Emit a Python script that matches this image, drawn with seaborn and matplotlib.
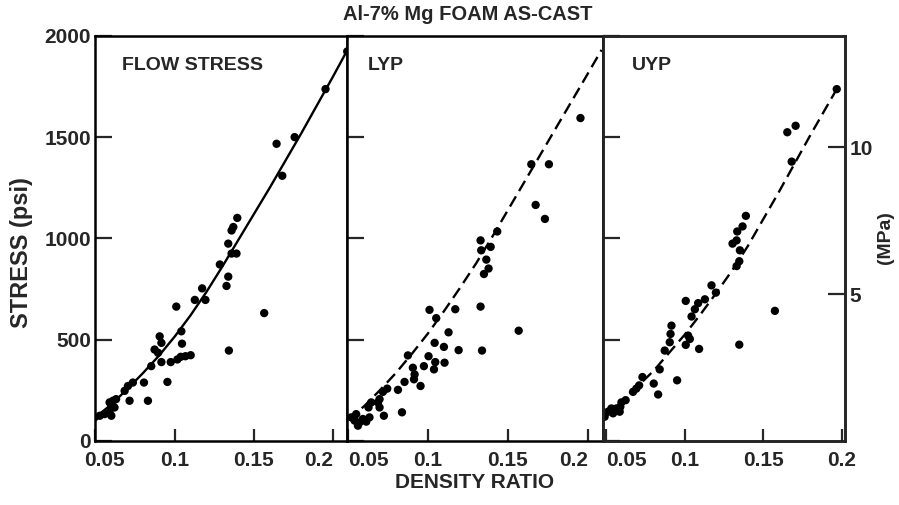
import pandas as pd
import seaborn as sns
import matplotlib.pyplot as plt
from matplotlib.transforms import ScaledTranslation


# density ratio / stress (psi)
flow_x = [0.0494, 0.0527, 0.0557, 0.0589, 0.0589, 0.061, 0.062, 0.060, 0.063, 0.060,
          0.0684, 0.0705, 0.0736, 0.0715, 0.0806, 0.0831, 0.0852, 0.0873, 0.0905, 0.0916,
          0.0895, 0.0916, 0.0954, 0.0975, 0.101, 0.1017, 0.1042, 0.1046, 0.1038, 0.1068,
          0.1101, 0.1127, 0.1173, 0.1194, 0.1285, 0.1327, 0.1338, 0.1338, 0.1359, 0.1359,
          0.137, 0.1395, 0.139, 0.1342, 0.1565, 0.1643, 0.1679, 0.1757, 0.1952, 0.2089]
flow_y = [116, 124, 132, 140, 190, 198, 165, 124, 206, 165,
          247, 271, 288, 198, 288, 198, 369, 451, 516, 484,
          435, 389, 291, 389, 663, 402, 541, 480, 415, 418,
          423, 696, 753, 696, 871, 765, 811, 974, 925, 1039,
          1056, 1101, 925, 446, 631, 1467, 1309, 1500, 1737, 1923]

lyp_x = [0.0521, 0.0552, 0.0573, 0.0563, 0.0542, 0.0594, 0.0615, 0.0635, 0.0629, 0.0646,
         0.0688, 0.0698, 0.0698, 0.0719, 0.0725, 0.0746, 0.0813, 0.0838, 0.0854, 0.0875,
         0.0906, 0.0917, 0.0913, 0.0954, 0.0975, 0.1004, 0.101, 0.1042, 0.1038, 0.1046,
         0.1052, 0.110, 0.1104, 0.1129, 0.1171, 0.1192, 0.1329, 0.1338, 0.1329, 0.1333,
         0.1365, 0.1379, 0.135, 0.1392, 0.1433, 0.1567, 0.1646, 0.1673, 0.1731, 0.1756, 0.1953]
lyp_y = [116, 132, 91, 75, 100, 108, 95, 116, 165, 190,
         190, 165, 206, 242, 124, 258, 252, 141, 291, 422,
         361, 328, 304, 271, 369, 418, 647, 484, 353, 389,
         606, 464, 386, 536, 650, 448, 663, 446, 990, 941,
         895, 851, 824, 958, 1034, 544, 1366, 1165, 1096, 1366, 1594]

uyp_x = [0.0489, 0.0511, 0.0532, 0.0543, 0.0564, 0.0585, 0.0589, 0.0596, 0.0623, 0.067,
         0.0691, 0.0709, 0.073, 0.0802, 0.083, 0.084, 0.0872, 0.0904, 0.0909, 0.0915,
         0.0951, 0.1006, 0.1006, 0.1021, 0.1032, 0.1043, 0.1064, 0.1085, 0.1091, 0.1128,
         0.117, 0.1198, 0.1347, 0.133, 0.1347, 0.1351, 0.1304, 0.133, 0.1334, 0.1368,
         0.1389, 0.1574, 0.1653, 0.1706, 0.1681, 0.1968]
uyp_y = [119, 144, 160, 136, 160, 144, 168, 190, 201, 242,
         258, 274, 315, 283, 229, 353, 446, 487, 528, 569,
         299, 691, 474, 520, 503, 614, 650, 680, 454, 699,
         768, 732, 475, 863, 887, 941, 974, 990, 1034, 1059,
         1111, 642, 1524, 1556, 1379, 1737]

# fitted curves
flow_fit_x = [0.049, 0.06, 0.07, 0.08, 0.09, 0.10, 0.11, 0.12, 0.13, 0.14, 0.16, 0.18, 0.20, 0.209]
flow_fit_y = [110, 180, 255, 335, 420, 515, 620, 735, 860, 990, 1250, 1520, 1800, 1930]
lyp_fit_x = [0.05, 0.06, 0.07, 0.08, 0.09, 0.10, 0.11, 0.12, 0.13, 0.14, 0.16, 0.18, 0.20, 0.2085]
lyp_fit_y = [105, 170, 250, 335, 430, 530, 640, 755, 875, 1005, 1275, 1545, 1815, 1931]
uyp_fit_x = [0.048, 0.06, 0.07, 0.08, 0.09, 0.10, 0.11, 0.12, 0.13, 0.14, 0.16, 0.18, 0.1968]
uyp_fit_y = [115, 190, 270, 345, 435, 525, 625, 730, 840, 960, 1230, 1510, 1737]

panel_names = ["FLOW STRESS", "LYP", "UYP"]
x_ticks = [0.05, 0.1, 0.15, 0.2]
x_tick_labels = ["0.05", "0.1", "0.15", "0.2"]
y_ticks = [0, 500, 1000, 1500, 2000]
mpa_ticks = [5, 10]
PSI_TO_MPA = 0.006895

sns.set_style("ticks")
plt.rcParams["font.family"] = ["Liberation Sans", "DejaVu Sans"]
plt.rcParams["font.weight"] = "bold"

fig = plt.figure(figsize=(8.99, 5.05), dpi=100)
gs = fig.add_gridspec(1, 3, width_ratios=[252, 255, 242], left=0.1057, right=0.94,
                      bottom=0.127, top=0.929, wspace=0)
axes = [fig.add_subplot(gs[0, i]) for i in range(3)]

points = [(flow_x, flow_y), (lyp_x, lyp_y), (uyp_x, uyp_y)]
fits = [(flow_fit_x, flow_fit_y), (lyp_fit_x, lyp_fit_y), (uyp_fit_x, uyp_fit_y)]
xlims = [(0.0497, 0.209), (0.0497, 0.2092), (0.0477, 0.2021)]
styles = ["-", (0, (5, 2.6)), (0, (5, 2.6))]
label_x = [0.107, 0.078, 0.12]

for i, ax in enumerate(axes):
    df = pd.DataFrame({"density": points[i][0], "stress": points[i][1]})
    sns.scatterplot(data=df, x="density", y="stress", ax=ax, color="black",
                    s=36, edgecolor="none", linewidth=0, zorder=3)
    fit_df = pd.DataFrame({"density": fits[i][0], "stress": fits[i][1]})
    sns.lineplot(data=fit_df, x="density", y="stress", ax=ax, color="black",
                 linewidth=1.7, linestyle=styles[i], estimator=None, sort=True)

    ax.set_xlim(*xlims[i])
    ax.set_ylim(0, 2000)
    ax.set_xticks(x_ticks)
    ax.set_xticklabels(x_tick_labels)
    ax.set_yticks(y_ticks)
    ax.set_xlabel("")
    ax.set_ylabel("")
    ax.tick_params(axis="x", direction="in", length=9, width=1.6, labelsize=15, pad=7)
    ax.tick_params(axis="y", direction="in", length=12, width=1.6, labelsize=15, pad=3,
                   left=True, right=False, labelleft=(i == 0))
    for sp in ax.spines.values():
        sp.set_linewidth(1.8)
        sp.set_color("black")
    ax.text(label_x[i], 0.926, panel_names[i], transform=ax.transAxes,
            fontsize=14, fontweight="bold", va="center", ha="left")

    # keep the labels at the panel joins apart
    labels = ax.get_xticklabels()
    if i == 0:
        labels[0].set_transform(labels[0].get_transform()
                                + ScaledTranslation(0.09, 0, fig.dpi_scale_trans))
    else:
        labels[0].set_ha("left")
    if i < 2:
        labels[3].set_ha("right")

# right hand scale in MPa
ax_r = axes[2].twinx()
ax_r.set_ylim(0, 2000 * PSI_TO_MPA)
ax_r.set_yticks(mpa_ticks)
ax_r.set_yticklabels(["5", "10"])
ax_r.tick_params(axis="y", direction="in", length=12, width=1.6, labelsize=15, pad=3)
for sp in ax_r.spines.values():
    sp.set_linewidth(1.8)

fig.text(0.52, 0.972, "Al-7% Mg FOAM AS-CAST", ha="center", va="center",
         fontsize=14.5, fontweight="bold")
fig.text(0.528, 0.044, "DENSITY RATIO", ha="center", va="center",
         fontsize=15, fontweight="bold")
fig.text(0.024, 0.5, "STRESS (psi)", ha="center", va="center", rotation=90,
         fontsize=17, fontweight="bold")
fig.text(0.985, 0.53, "(MPa)", ha="center", va="center", rotation=90,
         fontsize=14, fontweight="bold")

plt.savefig("out.png", dpi=100)
